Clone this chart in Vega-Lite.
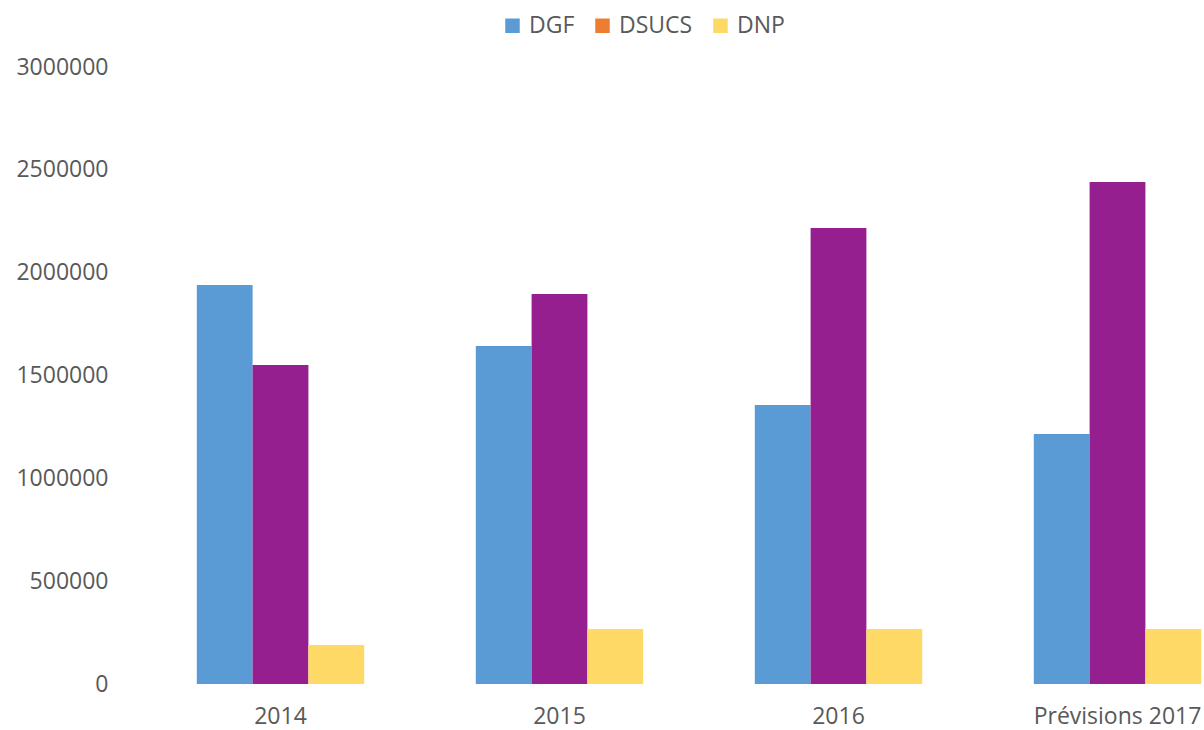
{
  "$schema": "https://vega.github.io/schema/vega-lite/v6.json",
  "autosize": {"type": "none"},
  "width": 1063,
  "height": 617,
  "padding": {"left": 141, "top": 67, "right": 0, "bottom": 46},
  "background": "white",
  "config": {
    "view": {"stroke": null},
    "font": "Open Sans",
    "axis": {"labelFont": "Open Sans", "labelColor": "#595959"}
  },
  "data": {
    "values": [
      {"year": "2014", "series": "DGF", "value": 1940000},
      {"year": "2014", "series": "DSUCS", "value": 1551000},
      {"year": "2014", "series": "DNP", "value": 190000},
      {"year": "2015", "series": "DGF", "value": 1643000},
      {"year": "2015", "series": "DSUCS", "value": 1896000},
      {"year": "2015", "series": "DNP", "value": 267000},
      {"year": "2016", "series": "DGF", "value": 1357000},
      {"year": "2016", "series": "DSUCS", "value": 2217000},
      {"year": "2016", "series": "DNP", "value": 267000},
      {"year": "Prévisions 2017", "series": "DGF", "value": 1216000},
      {"year": "Prévisions 2017", "series": "DSUCS", "value": 2441000},
      {"year": "Prévisions 2017", "series": "DNP", "value": 267000}
    ]
  },
  "encoding": {
    "x": {
      "field": "year",
      "type": "nominal",
      "sort": ["2014", "2015", "2016", "Prévisions 2017"],
      "scale": {"range": [0, 1116], "paddingInner": 0.4, "paddingOuter": 0.2},
      "axis": {"title": null, "labelAngle": 0, "domain": false, "ticks": false, "labelFontSize": 23, "labelPadding": 21, "labelOverlap": false}
    },
    "xOffset": {
      "field": "series",
      "type": "nominal",
      "sort": ["DGF", "DSUCS", "DNP"],
      "scale": {"paddingInner": 0, "paddingOuter": 0}
    },
    "y": {
      "field": "value",
      "type": "quantitative",
      "scale": {"domain": [0, 3000000], "nice": false},
      "axis": {"title": null, "values": [0, 500000, 1000000, 1500000, 2000000, 2500000, 3000000], "format": "d", "domain": false, "ticks": false, "grid": false, "labelFontSize": 23, "labelPadding": 33}
    }
  },
  "layer": [
    {
      "mark": {"type": "bar"},
      "encoding": {
        "color": {
          "field": "series",
          "type": "nominal",
          "scale": {"domain": ["DGF", "DSUCS", "DNP"], "range": ["#5B9BD5", "#951F8F", "#FFD966"]},
          "legend": null
        }
      }
    },
    {
      "mark": {"type": "bar", "opacity": 0},
      "encoding": {
        "color": {
          "field": "series",
          "type": "nominal",
          "scale": {"domain": ["DGF", "DSUCS", "DNP"], "range": ["#5B9BD5", "#ED7D31", "#FFD966"]},
          "legend": {
            "title": null,
            "orient": "none",
            "direction": "horizontal",
            "legendX": 360,
            "legendY": -53,
            "symbolType": "square",
            "symbolSize": 210,
            "symbolOpacity": 1,
            "symbolStrokeWidth": 0,
            "labelFontSize": 23,
            "labelColor": "#595959",
            "labelOffset": 5,
            "columnPadding": 16
          }
        }
      }
    }
  ],
  "resolve": {"scale": {"color": "independent"}}
}
